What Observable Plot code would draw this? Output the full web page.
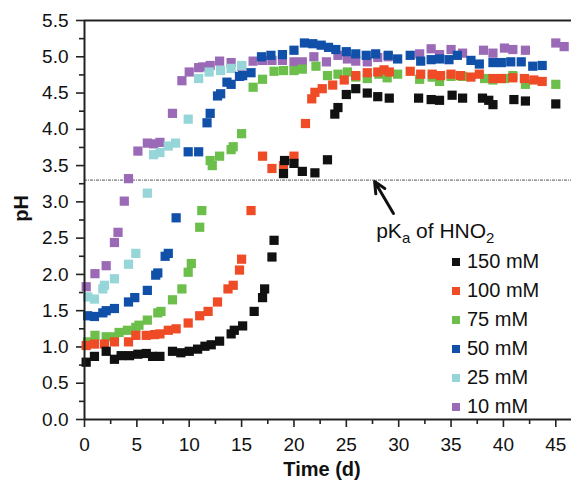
<!DOCTYPE html>
<html>
<head>
<meta charset="utf-8">
<script src="https://cdn.jsdelivr.net/npm/d3@7"></script>
<script src="https://cdn.jsdelivr.net/npm/@observablehq/plot@0.6"></script>
<style>
  html, body { margin: 0; padding: 0; background: #fff; }
  #wrap { position: relative; width: 572px; height: 483px; font-family: "Liberation Sans", Arial, Helvetica, sans-serif; }
  #legend { position: absolute; left: 451px; top: 247px; }
  .item { height: 29px; display: flex; align-items: center; font-size: 20px; color: #111; line-height: 29px; }
  .sw { width: 8px; height: 8px; margin-right: 7px; margin-left: 1px; }
</style>
</head>
<body>
<div id="wrap"></div>
<script>
// ---- data ----
const seriesNames = ["150 mM", "100 mM", "75 mM", "50 mM", "25 mM", "10 mM"];
const seriesColors = ["#111111", "#ef4b26", "#6cbf4a", "#1050a8", "#96d6d8", "#9a6ab7"];

const t150 = [0.16,0.95,2.07,2.86,3.5,4.3,5.1,5.9,6.5,7.2,8.4,9.2,10.0,10.8,11.5,12.1,12.9,14.0,14.3,15.1,16.2,17.0,17.2,17.9,18.1,19.0,19.1,20.0,20.8,22.0,23.2,23.9,24.2,25.0,25.9,27.0,28.0,29.1,31.9,33.1,33.9,35.1,36.1,38.0,38.6,39.0,41.0,42.1,45.0];
const ph150 = [0.79,0.87,0.94,0.83,0.88,0.88,0.90,0.91,0.87,0.87,0.94,0.92,0.94,0.97,1.01,1.03,1.08,1.18,1.23,1.29,1.49,1.68,1.80,2.24,2.47,3.39,3.57,3.53,3.42,3.40,3.58,4.21,4.30,4.48,4.56,4.50,4.45,4.43,4.43,4.41,4.40,4.47,4.43,4.43,4.40,4.34,4.41,4.39,4.35];

const t100 = [0.16,0.95,1.9,2.86,4.2,4.9,5.9,6.7,7.2,8.0,8.75,9.9,11.0,11.8,12.7,13.7,14.2,14.8,15.0,15.9,17.0,17.9,19.0,20.0,21.1,21.7,22.0,22.7,23.7,24.8,25.9,27.0,28.0,28.6,29.1,31.1,32.1,33.2,34.0,35.0,35.9,36.9,37.7,39.0,39.8,40.9,42.0,42.9,43.7];
const ph100 = [1.02,1.04,1.04,1.07,1.07,1.16,1.16,1.17,1.18,1.23,1.25,1.33,1.43,1.49,1.62,1.80,1.85,2.06,2.21,2.88,3.63,3.46,3.50,3.63,4.08,4.42,4.51,4.56,4.61,4.68,4.74,4.78,4.79,4.82,4.79,4.80,4.76,4.76,4.74,4.76,4.74,4.72,4.76,4.70,4.70,4.71,4.70,4.68,4.66];

const t75 = [0.3,1.0,2.07,2.86,3.3,4.1,4.9,5.2,6.0,7.0,7.3,8.4,9.3,9.9,10.2,11.0,11.2,12.0,12.2,12.9,14.0,14.2,15.0,16.1,17.0,18.1,19.0,20.0,20.8,22.1,23.2,24.2,25.1,25.9,27.0,28.1,28.9,29.9,32.0,33.2,33.9,35.0,36.1,38.2,39.0,40.1,40.9,42.1,45.0];
const ph75 = [1.07,1.16,1.14,1.14,1.20,1.23,1.27,1.30,1.37,1.47,1.49,1.65,1.80,2.03,2.15,2.65,2.88,3.57,3.50,3.63,3.72,3.76,3.94,4.58,4.69,4.80,4.81,4.81,4.83,4.87,4.74,4.76,4.79,4.72,4.70,4.76,4.71,4.76,4.69,4.72,4.66,4.73,4.73,4.70,4.68,4.70,4.74,4.62,4.62];

const t50 = [0.3,0.95,1.75,2.07,2.86,4.2,4.8,6.0,6.8,7.0,7.7,8.0,8.75,9.9,10.9,11.7,12.0,12.7,13.0,13.6,14.0,14.8,15.1,15.9,16.9,17.8,18.9,20.0,21.0,21.8,22.6,23.3,24.0,25.0,25.9,26.9,27.8,29.0,29.9,31.1,32.1,33.1,33.9,34.8,35.6,36.9,37.7,39.0,39.8,40.7,41.7,42.8,43.7];
const ph50 = [1.43,1.42,1.47,1.50,1.53,1.62,1.68,1.78,1.99,2.02,2.25,2.29,2.78,3.69,3.69,4.09,4.22,4.46,4.49,4.65,4.62,4.73,4.74,4.78,5.00,5.02,5.03,5.09,5.19,5.18,5.16,5.13,5.10,5.07,5.04,5.02,5.04,5.02,4.97,5.02,4.94,4.96,4.97,4.96,5.02,4.95,4.90,4.92,4.92,4.93,4.93,4.87,4.88];

const t25 = [0.3,0.95,1.75,1.9,2.86,4.2,4.9,6.0,6.6,7.2,8.0,8.7,9.9,10.9,11.9,13.0,14.0,15.0];
const ph25 = [1.69,1.66,1.80,1.85,1.94,2.14,2.29,3.12,3.65,3.68,3.77,3.81,4.14,4.70,4.79,4.81,4.84,4.88];

const t10 = [0.16,1.0,2.07,2.86,3.2,3.8,4.2,5.1,6.0,6.6,7.2,8.4,9.3,10.0,10.9,11.3,12.0,12.9,14.0,15.0,16.1,17.0,17.9,18.9,20.0,20.8,21.9,23.1,24.2,25.1,25.9,27.0,28.0,29.0,32.0,33.1,33.9,35.0,36.1,38.1,39.0,40.1,40.9,42.1,45.0,45.8];
const ph10 = [1.83,2.01,2.12,2.44,2.58,3.01,3.32,3.70,3.81,3.80,3.82,4.22,4.67,4.79,4.85,4.86,4.88,4.94,4.92,4.87,4.94,4.95,4.95,4.95,4.93,4.93,5.00,4.93,5.02,4.97,4.94,4.93,4.99,5.00,5.04,5.11,5.03,5.10,5.05,5.09,5.05,5.12,5.10,5.09,5.19,5.14];

const xTicks = [0, 5, 10, 15, 20, 25, 30, 35, 40, 45];
const xMinorTicks = [2.5, 7.5, 12.5, 17.5, 22.5, 27.5, 32.5, 37.5, 42.5];
const yTicks = [0, 0.5, 1, 1.5, 2, 2.5, 3, 3.5, 4, 4.5, 5, 5.5];
const yMinorTicks = [0.25, 0.75, 1.25, 1.75, 2.25, 2.75, 3.25, 3.75, 4.25, 4.75, 5.25];
const pKa = [3.3];
const arrowPts = [{x1: 29.5, y1: 2.84, x2: 27.7, y2: 3.28}];
const labelPos = [{x: 27.9, y: 2.5}];

// ---- build table ----
const tList = [t150, t100, t75, t50, t25, t10];
const pList = [ph150, ph100, ph75, ph50, ph25, ph10];
const rows = [];
// draw lowest concentration first so 150 mM ends on top
for (let s = seriesNames.length - 1; s >= 0; s--) {
  tList[s].forEach((t, i) => rows.push({series: seriesNames[s], t, ph: pList[s][i]}));
}

const axisColor = "#222";
const plot = Plot.plot({
  width: 572,
  height: 483,
  marginLeft: 84,
  marginRight: 1,
  marginTop: 20,
  marginBottom: 64,
  style: {fontFamily: "Liberation Sans, Arial, Helvetica, sans-serif", fontSize: "19px", color: "#111", background: "#fff"},
  x: {domain: [0, 46.5]},
  y: {domain: [0, 5.5]},
  color: {domain: seriesNames, range: seriesColors},
  marks: [
    Plot.axisX({ticks: xTicks, tickSize: 8, tickPadding: 10, tickFormat: d3.format("d"), label: null, stroke: axisColor, strokeWidth: 1.6}),
    Plot.axisX({ticks: xMinorTicks, tickSize: 5, tickFormat: () => "", label: null, stroke: axisColor, strokeWidth: 1.6}),
    Plot.axisY({ticks: yTicks, tickSize: 8, tickPadding: 8, tickFormat: d3.format(".1f"), label: null, stroke: axisColor, strokeWidth: 1.6}),
    Plot.axisY({ticks: yMinorTicks, tickSize: 5, tickFormat: () => "", label: null, stroke: axisColor, strokeWidth: 1.6}),
    Plot.ruleY(pKa, {stroke: "#555", strokeWidth: 1, strokeDasharray: "3,1,1,1"}),
    Plot.dot(rows, {x: "t", y: "ph", fill: "series", symbol: "square", r: 5.2, stroke: null}),
    Plot.arrow(arrowPts, {x1: "x1", y1: "y1", x2: "x2", y2: "y2", stroke: "#111", strokeWidth: 3, headLength: 12, headAngle: 50, bend: 0}),
    Plot.ruleY([0], {stroke: axisColor, strokeWidth: 2}),
    Plot.ruleY([5.5], {stroke: axisColor, strokeWidth: 2}),
    Plot.ruleX([0], {stroke: axisColor, strokeWidth: 2})
  ]
});

const wrap = document.getElementById("wrap");
wrap.appendChild(plot);

const sx = plot.scale("x"), sy = plot.scale("y");
const svg = d3.select(plot);

// annotation text with subscripts
const lbl = svg.append("text")
  .attr("x", sx.apply(labelPos[0].x))
  .attr("y", sy.apply(labelPos[0].y))
  .attr("text-anchor", "start")
  .attr("font-size", 21)
  .attr("fill", "#111");
lbl.append("tspan").text("pK");
lbl.append("tspan").attr("font-size", 15).attr("dy", 5).text("a");
lbl.append("tspan").attr("dy", -5).text(" of HNO");
lbl.append("tspan").attr("font-size", 15).attr("dy", 5).text("2");

// axis titles
const yr = sy.range;
svg.append("text")
  .attr("x", 322).attr("y", 476)
  .attr("text-anchor", "middle").attr("font-weight", "bold").attr("font-size", 20).attr("fill", "#111")
  .text("Time (d)");
svg.append("text")
  .attr("transform", `translate(28,${(yr[0] + yr[1]) / 2 - 11}) rotate(-90)`)
  .attr("text-anchor", "middle").attr("font-weight", "bold").attr("font-size", 20).attr("fill", "#111")
  .text("pH");

// legend
const legend = document.createElement("div");
legend.id = "legend";
seriesNames.forEach((name, i) => {
  const item = document.createElement("div");
  item.className = "item";
  const sw = document.createElement("span");
  sw.className = "sw";
  sw.style.background = seriesColors[i];
  item.appendChild(sw);
  item.appendChild(document.createTextNode(name));
  legend.appendChild(item);
});
wrap.appendChild(legend);
</script>
</body>
</html>
